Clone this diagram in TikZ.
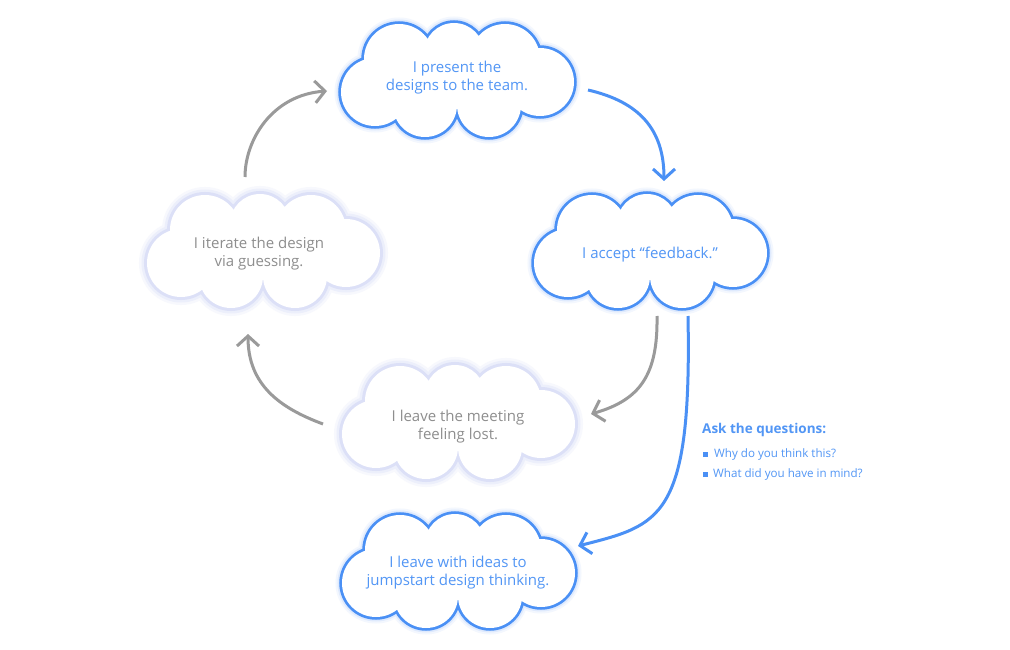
\documentclass[tikz,border=0pt]{standalone}
\usepackage{fontspec}
\setmainfont{Open Sans}
\usetikzlibrary{arrows.meta}
\definecolor{cloudblue}{HTML}{4A90F5}
\definecolor{textblue}{HTML}{5296F5}
\definecolor{glowblueA}{HTML}{F3F7FE}
\definecolor{glowblueB}{HTML}{DFEAFD}
\definecolor{glowgreyA}{HTML}{F7F8FD}
\definecolor{glowgreyB}{HTML}{ECEFFB}
\definecolor{glowgreyC}{HTML}{DCE0F7}
\definecolor{greyline}{HTML}{9A9A9A}
\definecolor{greytext}{HTML}{8E8E8E}
\newcommand\cloudpath[1]{\path[#1] (-82,13) circle[radius=34pt] (-58,-20) circle[radius=35pt] (-3,-26) circle[radius=30pt] (48,-20) circle[radius=35pt] (83,3) circle[radius=34pt] (32,26) circle[radius=32pt] (-32,26) circle[radius=32pt];}
\tikzset{
  pics/bluecloud/.style={code={
    \cloudpath{draw=glowblueA, line width=13pt}
    \cloudpath{draw=glowblueB, line width=9pt}
    \cloudpath{draw=cloudblue, line width=5.5pt}
    \cloudpath{fill=white}
    \fill[white] (-82,-20) rectangle (83,26);
  }},
  pics/greycloud/.style={code={
    \cloudpath{draw=glowgreyA, line width=16pt}
    \cloudpath{draw=glowgreyB, line width=11pt}
    \cloudpath{draw=glowgreyC, line width=6pt}
    \cloudpath{fill=white}
    \fill[white] (-82,-20) rectangle (83,26);
  }},
  ctext/.style={align=center, inner sep=0pt, font=\fontsize{15}{18}\selectfont},
  bluetext/.style={ctext, text=textblue},
  greytext/.style={ctext, text=greytext},
  conn/.style={line width=3pt, -{Straight Barb[length=10pt,width=22pt]}},
  blueconn/.style={conn, draw=cloudblue},
  greyconn/.style={conn, draw=greyline},
  bullet/.style={fill=cloudblue, minimum size=5pt, inner sep=0pt},
  itemtext/.style={anchor=west, inner sep=0pt, text=textblue, font=\fontsize{11.6}{13}\selectfont}
}
\begin{document}
\begin{tikzpicture}[x=1pt,y=-1pt]
\fill[white] (0,0) rectangle (1010,650);
\useasboundingbox (0,0) rectangle (1010,650);
% clouds
\pic at (457,79) {bluecloud};
\pic at (650,250) {bluecloud};
\pic at (263,250) {greycloud};
\pic at (458,421) {greycloud};
\pic at (458,570) {bluecloud};
% texts
\node[bluetext] (present) at (457,78) {I present the\\designs to the team.};
\node[bluetext] (accept) at (650,255) {I accept “feedback.”};
\node[greytext] (iterate) at (259,254) {I iterate the design\\via guessing.};
\node[greytext] (lost) at (458,427) {I leave the meeting\\feeling lost.};
\node[bluetext] (ideas) at (458,573) {I leave with ideas to\\jumpstart design thinking.};
% connector end points
\coordinate (a1s) at (588,90);
\coordinate (a1e) at (664,181);
\coordinate (a2s) at (657,316);
\coordinate (a2e) at (591,414);
\coordinate (a3s) at (688,316);
\coordinate (a3e) at (578,546);
\coordinate (a4s) at (323,424);
\coordinate (a4e) at (248,334);
\coordinate (a5s) at (245,177);
\coordinate (a5e) at (327,91);
% connectors
\draw[blueconn] (a1s) .. controls (640,102) and (664,130) .. (a1e);
\draw[greyconn] (a2s) .. controls (658,375) and (640,400) .. (a2e);
\draw[blueconn] (a3s) .. controls (692,520) and (660,525) .. (a3e);
\draw[greyconn] (a4s) .. controls (280,408) and (248,385) .. (a4e);
\draw[greyconn] (a5s) .. controls (245,140) and (272,95) .. (a5e);
% questions
\node[anchor=west, inner sep=0pt, text=textblue, font=\bfseries\fontsize{13.5}{15}\selectfont] (ask) at (702,430) {Ask the questions:};
\node[bullet] (b1) at (705.5,454) {};
\node[bullet] (b2) at (705.5,474) {};
\node[itemtext] (q1) at (714,454) {Why do you think this?};
\node[itemtext] (q2) at (713,474) {What did you have in mind?};
\end{tikzpicture}
\end{document}
